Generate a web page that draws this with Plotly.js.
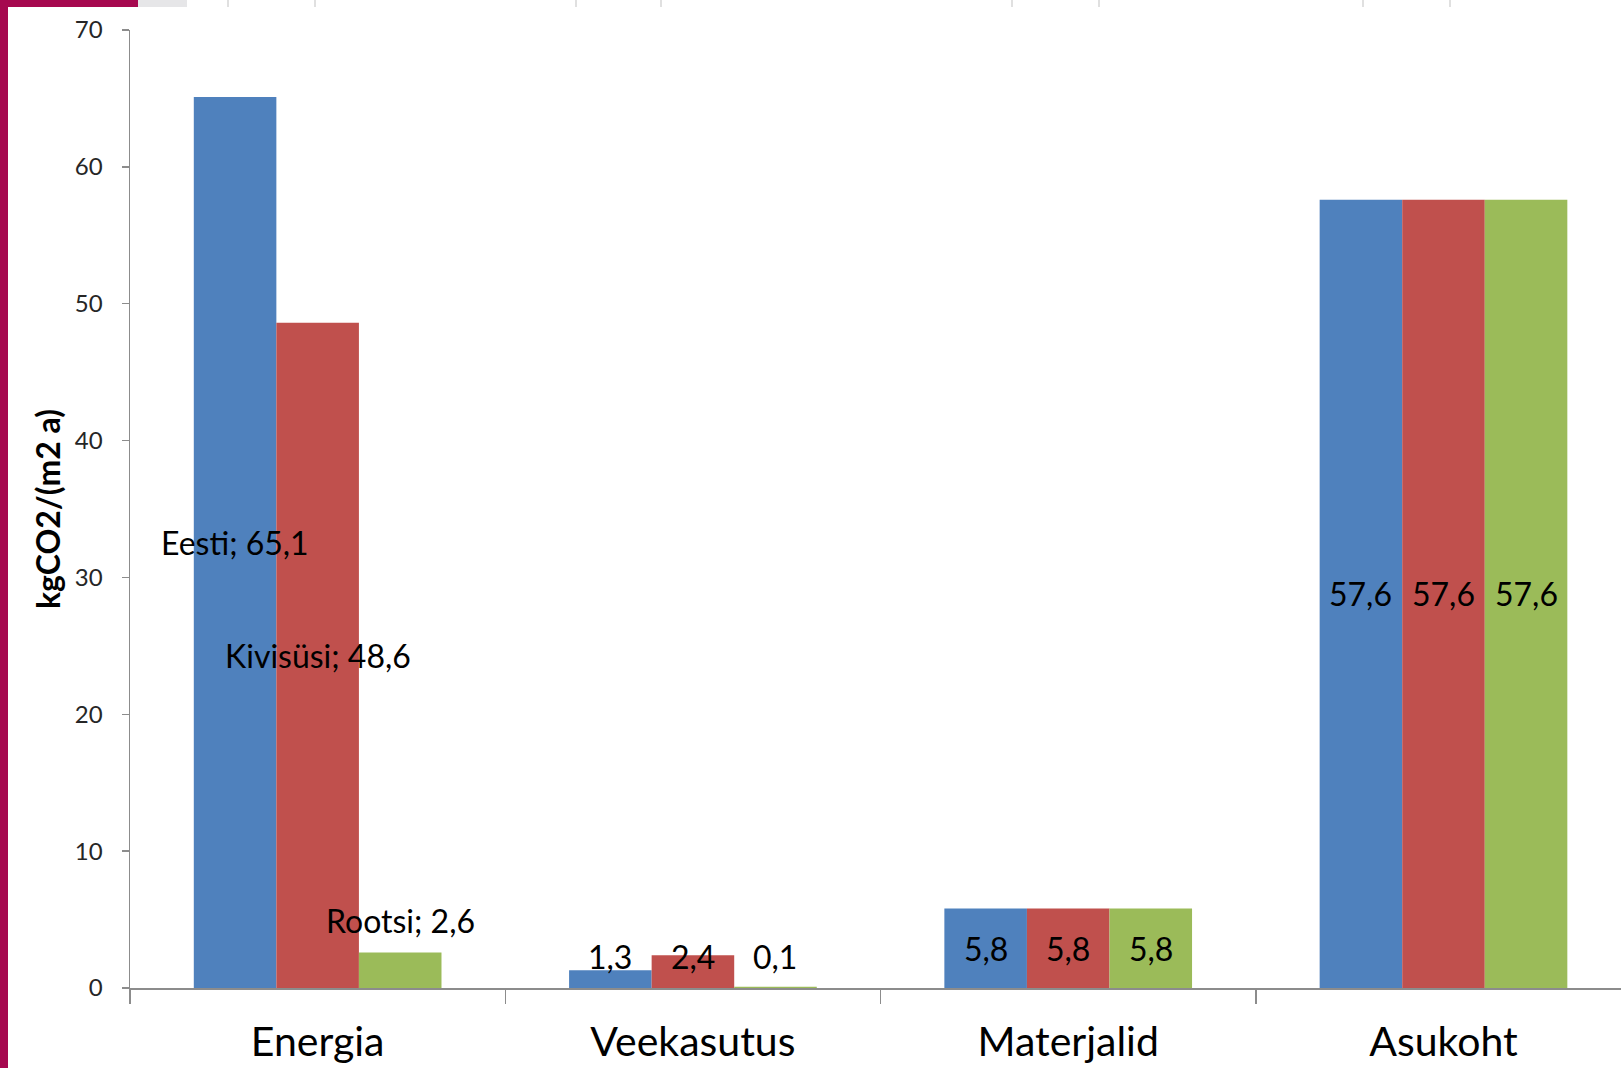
<!DOCTYPE html>
<html>
<head>
<meta charset="utf-8">
<script src="https://cdn.plot.ly/plotly-3.0.1.min.js"></script>
<style>
  html, body { margin: 0; padding: 0; background: #ffffff; }
  #chart { width: 1621px; height: 1068px; }
</style>
</head>
<body>
<div id="chart"></div>
<script>
// Süsinikujalajälg tegevusvaldkonniti, kgCO2 ruutmeetri kohta aastas
const categories = ['Energia', 'Veekasutus', 'Materjalid', 'Asukoht'];
const seriesNames = ['Eesti', 'Kivisüsi', 'Rootsi'];
const eestiValues = [65.1, 1.3, 5.8, 57.6];
const kivisusiValues = [48.6, 2.4, 5.8, 57.6];
const rootsiValues = [2.6, 0.1, 5.8, 57.6];
const yTickValues = [0, 10, 20, 30, 40, 50, 60, 70];
const yTitle = 'kgCO2/(m2 a)';

const seriesValues = [eestiValues, kivisusiValues, rootsiValues];
const colors = ['#4F81BD', '#C0504D', '#9BBB59'];

const W = 1621, H = 1068;
const M = { l: 130, r: 0, t: 30, b: 80 };
const plotW = W - M.l - M.r, plotH = H - M.t - M.b;
const BARGAP = 0.34;
const barStep = (1 - BARGAP) / seriesNames.length;
// visible part of the last category (the plot runs off the right edge)
const X_SPAN = 3.973;

const fmt = v => v.toFixed(1).replace('.', ',');
const FONT = 'Lato, "Open Sans", sans-serif';

const traces = seriesNames.map((name, i) => ({
  type: 'bar',
  name: name,
  x: categories,
  y: seriesValues[i],
  marker: { color: colors[i], line: { width: 0 } },
  hoverinfo: 'x+y+name'
}));

// Value labels: inside the bar centre when the bar is tall enough,
// otherwise just above it. The Veekasutus labels share one line.
const annotations = [];
const WATER_LABEL_Y = 2.3;
categories.forEach((cat, ci) => {
  seriesNames.forEach((name, si) => {
    const v = seriesValues[si][ci];
    const xPos = ci + (si - 1) * barStep;
    let text = fmt(v);
    if (ci === 0) text = name + '; ' + fmt(v);
    const ann = {
      x: xPos, y: v / 2, xref: 'x', yref: 'y',
      text: text, showarrow: false,
      xanchor: 'center', yanchor: 'middle',
      font: { family: FONT, size: 32, color: '#000000' }
    };
    if (ci === 1) {
      ann.y = WATER_LABEL_Y;
    } else if (v < 4) {
      ann.y = v; ann.yshift = 32;
    }
    annotations.push(ann);
  });
});

// Slide frame pieces around the chart (left stripe and top strip)
const px = x => (x - M.l) / plotW;
const py = y => (H - M.b - y) / plotH;
const shapes = [
  { type: 'rect', xref: 'paper', yref: 'paper', x0: px(0), x1: px(8), y0: py(H), y1: py(0),
    fillcolor: '#A6084F', line: { width: 0 }, layer: 'above' },
  { type: 'rect', xref: 'paper', yref: 'paper', x0: px(0), x1: px(138), y0: py(7), y1: py(0),
    fillcolor: '#A6084F', line: { width: 0 }, layer: 'above' },
  { type: 'rect', xref: 'paper', yref: 'paper', x0: px(138), x1: px(187), y0: py(7), y1: py(0),
    fillcolor: '#E6E6E8', line: { width: 0 }, layer: 'above' }
];
[228, 315, 576, 661, 1012, 1099, 1363, 1450].forEach(x => {
  shapes.push({ type: 'line', xref: 'paper', yref: 'paper', x0: px(x), x1: px(x), y0: py(7), y1: py(0),
    line: { color: '#E0E0E0', width: 2 }, layer: 'above' });
});

const layout = {
  width: W, height: H,
  margin: M,
  paper_bgcolor: '#ffffff',
  plot_bgcolor: '#ffffff',
  showlegend: false,
  barmode: 'group',
  bargap: BARGAP,
  bargroupgap: 0,
  font: { family: FONT, color: '#000000' },
  xaxis: {
    type: 'category',
    range: [-0.5, -0.5 + X_SPAN],
    showline: true, linecolor: '#8C8C8C', linewidth: 1.5,
    ticks: 'outside', tickson: 'boundaries', ticklen: 14, tickcolor: '#8C8C8C', tickwidth: 1.5,
    showgrid: false, zeroline: false,
    tickfont: { family: FONT, size: 41, color: '#000000' },
    ticklabelstandoff: 17,
    fixedrange: true
  },
  yaxis: {
    range: [0, 70],
    tickvals: yTickValues,
    ticktext: yTickValues.map(String),
    showline: true, linecolor: '#8C8C8C', linewidth: 1.5,
    ticks: 'outside', ticklen: 7, tickcolor: '#8C8C8C', tickwidth: 1.5,
    showgrid: false, zeroline: false,
    tickfont: { family: FONT, size: 24, color: '#262626' },
    ticklabelstandoff: 14,
    title: { text: yTitle, font: { family: FONT, size: 32, color: '#000000', weight: 'bold' }, standoff: 4 },
    fixedrange: true
  },
  annotations: annotations,
  shapes: shapes
};

Plotly.newPlot('chart', traces, layout, { displayModeBar: false, staticPlot: true });
</script>
</body>
</html>
